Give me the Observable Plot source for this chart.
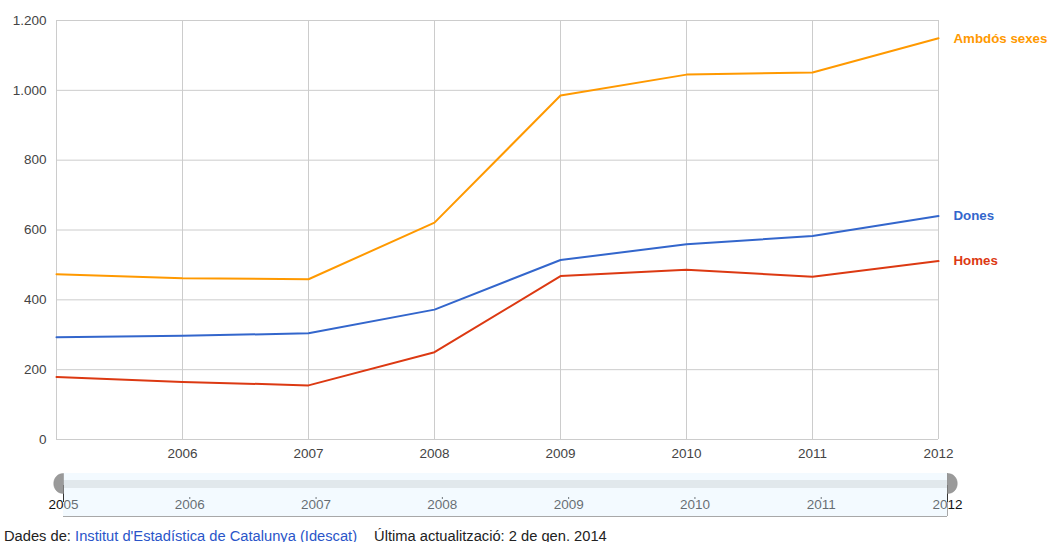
<!DOCTYPE html>
<html>
<head>
<meta charset="utf-8">
<script src="https://cdn.jsdelivr.net/npm/d3@7"></script>
<script src="https://cdn.jsdelivr.net/npm/@observablehq/plot@0.6"></script>
<style>
  html, body { margin: 0; padding: 0; background: #fff; }
  body { width: 1050px; height: 542px; overflow: hidden; font-family: "Liberation Sans", Arial, sans-serif; }
  #footer { margin-top: 6px; margin-left: 4px; font-size: 14.7px; line-height: 17px; color: #222; white-space: nowrap; }
  #footer a { color: #2a55c9; text-decoration: none; }
  svg { display: block; }
</style>
</head>
<body>
<div id="chart"></div>
<div id="slider"></div>
<div id="footer">Dades de: <a href="#">Institut d'Estadística de Catalunya (Idescat)</a><span style="margin-left:17px">Última actualització: 2 de gen. 2014</span></div>
<script>
const years = [2005, 2006, 2007, 2008, 2009, 2010, 2011, 2012];
const ambdos = [473, 462, 459, 621, 985, 1045, 1051, 1149];
const dones  = [293, 297, 304, 372, 514, 559, 583, 640];
const homes  = [179, 165, 155, 250, 468, 486, 466, 511];
const seriesNames = ["Ambdós sexes", "Dones", "Homes"];
const seriesColors = ["#ff9900", "#3366cc", "#dc3912"];
const yTicks = [0, 200, 400, 600, 800, 1000, 1200];
const xTicks = [2006, 2007, 2008, 2009, 2010, 2011, 2012];

const valuesBySeries = [ambdos, dones, homes];
const rows = [];
seriesNames.forEach((name, i) => {
  years.forEach((yr, j) => rows.push({serie: name, year: yr, value: valuesBySeries[i][j]}));
});
const lastRows = rows.filter(d => d.year === years[years.length - 1]);

const fmt = d3.formatLocale({thousands: ".", decimal: ",", grouping: [3], currency: ["", "€"]}).format(",");
const font = "Liberation Sans, Arial, sans-serif";

const chart = Plot.plot({
  width: 1050,
  height: 465,
  marginTop: 20,
  marginBottom: 26,
  marginLeft: 56,
  marginRight: 112,
  style: {fontFamily: font, fontSize: "13.5px", color: "#444", background: "#fff"},
  x: {domain: [years[0], years[years.length - 1]]},
  y: {domain: [0, 1200]},
  color: {domain: seriesNames, range: seriesColors},
  marks: [
    Plot.ruleY(yTicks, {stroke: "#cccccc", strokeWidth: 1}),
    Plot.ruleX(years, {stroke: "#cccccc", strokeWidth: 1}),
    Plot.axisY(yTicks, {tickSize: 0, tickPadding: 10, tickFormat: fmt, fill: "#444", fontSize: 13.5, label: null}),
    Plot.axisX(xTicks, {tickSize: 0, tickPadding: 9, tickFormat: d => String(d), fill: "#444", fontSize: 13.5, label: null}),
    Plot.line(rows, {x: "year", y: "value", z: "serie", stroke: "serie", strokeWidth: 2}),
    Plot.text(lastRows, {x: "year", y: "value", text: "serie", fill: "serie", textAnchor: "start", dx: 15, fontWeight: "bold", fontSize: 13.3})
  ]
});
document.getElementById("chart").appendChild(chart);

const halfLeft = {draw(ctx) { ctx.moveTo(0, -10); ctx.bezierCurveTo(-13, -10, -13, 10, 0, 10); ctx.closePath(); }};
const halfRight = {draw(ctx) { ctx.moveTo(0, -10); ctx.bezierCurveTo(13, -10, 13, 10, 0, 10); ctx.closePath(); }};
const ends = [years[0], years[years.length - 1]];
const mids = years.slice(1, -1);

const slider = Plot.plot({
  width: 1050,
  height: 57,
  marginTop: 8,
  marginBottom: 6,
  marginLeft: 63,
  marginRight: 103,
  style: {fontFamily: font, fontSize: "13.5px", background: "transparent", overflow: "visible"},
  x: {domain: [years[0], years[years.length - 1]], axis: null},
  y: {domain: [0, 1], axis: null},
  marks: [
    Plot.ruleX(years, {stroke: "#222", insetTop: 24, insetBottom: 17}),
    Plot.text(years, {x: d => d, text: d => String(d), frameAnchor: "bottom", dy: -8, fill: "#111", fontSize: 13.5}),
    Plot.rect([0], {x1: () => years[0], x2: () => years[years.length - 1], fill: "#e1f2ff", fillOpacity: 0.4}),
    Plot.rect([0], {x1: () => years[0], x2: () => years[years.length - 1], fill: "#e1e8ec", insetTop: 7, insetBottom: 28}),
    Plot.ruleY([0], {stroke: "#a8a8a8"}),
    Plot.ruleX([years[years.length - 1]], {stroke: "#a8a8a8"}),
    Plot.ruleX(ends, {stroke: "#333", insetTop: 12, insetBottom: 14}),
    Plot.dot([years[0]], {x: d => d, symbol: halfLeft, fill: "#9a9a9a", stroke: "#8a8a8a", strokeWidth: 0.5, dy: -11.5}),
    Plot.dot([years[years.length - 1]], {x: d => d, symbol: halfRight, fill: "#9a9a9a", stroke: "#8a8a8a", strokeWidth: 0.5, dy: -11.5})
  ]
});
document.getElementById("slider").appendChild(slider);
</script>
</body>
</html>
